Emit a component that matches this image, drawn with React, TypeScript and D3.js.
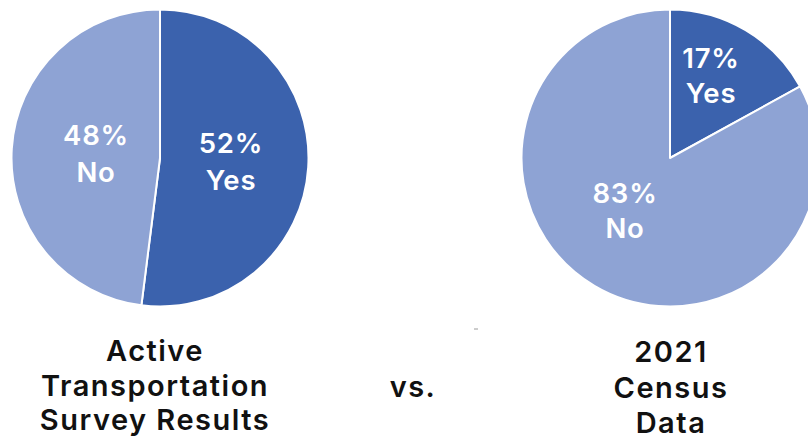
import React from "react";
import * as d3 from "d3";

// ---- data ----
const answers = ["Yes", "No"];
const surveyValues = [52, 48];
const censusValues = [17, 83];
const surveyTitle = ["Active", "Transportation", "Survey Results"];
const censusTitle = ["2021", "Census", "Data"];
const middleText = "vs.";

const W = 808;
const H = 443;
const DARK = "#3b62ad";
const LIGHT = "#8ea3d4";
const FONT = "Inter, 'Open Sans', sans-serif";

type PieSpec = {
  values: number[];
  cx: number;
  cy: number;
  r: number;
  // label block centre offsets relative to the pie centre, one per slice
  labelOffsets: [number, number][];
  lineGap: number;
};

function Pie({ values, cx, cy, r, labelOffsets, lineGap }: PieSpec) {
  const data = answers.map((a, i) => ({ answer: a, value: values[i] }));
  const pie = d3
    .pie<{ answer: string; value: number }>()
    .sort(null)
    .value((d) => d.value)
    .startAngle(0)
    .endAngle(Math.PI * 2);
  const arcs = pie(data);
  const arc = d3
    .arc<d3.PieArcDatum<{ answer: string; value: number }>>()
    .innerRadius(0)
    .outerRadius(r);
  const color = d3.scaleOrdinal<string, string>().domain(answers).range([DARK, LIGHT]);
  return (
    <g transform={`translate(${cx},${cy})`}>
      {arcs.map((a, i) => (
        <path
          key={i}
          d={arc(a) || ""}
          fill={color(a.data.answer)}
          stroke="#ffffff"
          strokeWidth={2}
          strokeLinejoin="round"
        />
      ))}
      {arcs.map((a, i) => {
        const [dx, dy] = labelOffsets[i];
        return (
          <text
            key={"t" + i}
            x={dx}
            y={dy}
            textAnchor="middle"
            fill="#ffffff"
            fontFamily={FONT}
            fontWeight={600}
            fontSize={27.5}
            letterSpacing={0.8}
          >
            <tspan x={dx} dy={-lineGap / 2 + 10}>{`${a.data.value}%`}</tspan>
            <tspan x={dx} dy={lineGap}>{a.data.answer}</tspan>
          </text>
        );
      })}
    </g>
  );
}

function Title({ lines, x, y, gap }: { lines: string[]; x: number; y: number; gap: number }) {
  return (
    <text
      x={x}
      y={y}
      textAnchor="middle"
      fill="#111111"
      fontFamily={FONT}
      fontWeight={600}
      fontSize={29}
      letterSpacing={1.5}
    >
      {lines.map((l, i) => (
        <tspan key={i} x={x} y={y + i * gap}>
          {l}
        </tspan>
      ))}
    </text>
  );
}

export default function App() {
  return (
    <svg
      width={W}
      height={H}
      viewBox={`0 0 ${W} ${H}`}
      style={{ position: "absolute", left: 0, top: 0, background: "#ffffff" }}
    >
      <rect width={W} height={H} fill="#ffffff" />
      <Pie
        values={surveyValues}
        cx={160}
        cy={158}
        r={148.5}
        labelOffsets={[
          [231 - 160, 3],
          [96 - 160, -5],
        ]}
        lineGap={37}
      />
      <Pie
        values={censusValues}
        cx={670}
        cy={158}
        r={148.5}
        labelOffsets={[
          [41, -83],
          [-45, 52],
        ]}
        lineGap={35}
      />
      <Title lines={surveyTitle} x={155} y={361} gap={34.5} />
      <Title lines={censusTitle} x={671} y={362} gap={35.5} />
      <text
        x={413}
        y={397}
        textAnchor="middle"
        fill="#111111"
        fontFamily={FONT}
        fontWeight={600}
        fontSize={29}
        letterSpacing={1.5}
      >
        {middleText}
      </text>
      <line x1={474} x2={478} y1={329} y2={329} stroke="#9a9a9a" strokeWidth={1} />
    </svg>
  );
}
